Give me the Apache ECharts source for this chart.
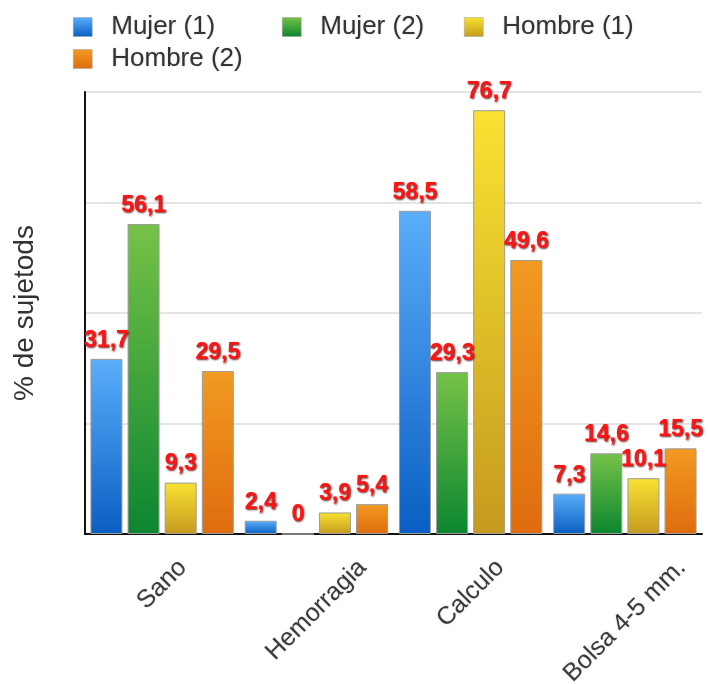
<!DOCTYPE html>
<html>
<head>
<meta charset="utf-8">
<script src="https://cdn.jsdelivr.net/npm/echarts@6/dist/echarts.min.js"></script>
<style>
  html, body { margin: 0; padding: 0; background: #ffffff; }
  #chart { width: 708px; height: 684px; }
</style>
</head>
<body>
<div id="chart"></div>
<script>
// Categories and percentages per group
const categories = ['Sano', 'Hemorragia', 'Calculo', 'Bolsa 4-5 mm.'];
const seriesNames = ['Mujer (1)', 'Mujer (2)', 'Hombre (1)', 'Hombre (2)'];
const mujer1 = [31.7, 2.4, 58.5, 7.3];
const mujer2 = [56.1, 0, 29.3, 14.6];
const hombre1 = [9.3, 3.9, 76.7, 10.1];
const hombre2 = [29.5, 5.4, 49.6, 15.5];
const yTitle = '% de sujetods';
const yMax = 80;
const yStep = 20;

// top / bottom colours of the bar gradients
const palette = [
  ['#5aaefa', '#0a5ec2'],
  ['#76c247', '#0b8630'],
  ['#f9e232', '#c59a1f'],
  ['#f29a22', '#df6c0e']
];

const values = [mujer1, mujer2, hombre1, hombre2];

function gradient(pair) {
  return new echarts.graphic.LinearGradient(0, 0, 0, 1, [
    { offset: 0, color: pair[0] },
    { offset: 1, color: pair[1] }
  ]);
}

const TEXT_FONT = "'Liberation Sans', Arial, Helvetica, sans-serif";
const CAT_FONT_SIZE = 25;

// Rotated category labels are centred under their category with the top
// of their rotated extent at a common distance below the axis. The label
// is anchored at its top-centre and moved along / across its own direction
// by a quarter of (width + height), which adds up to a straight drop of
// half the rotated extent.
const measureCtx = document.createElement('canvas').getContext('2d');
measureCtx.font = CAT_FONT_SIZE + 'px ' + TEXT_FONT;
const categoryItems = categories.map(function (name) {
  const w = measureCtx.measureText(name).width;
  const h = CAT_FONT_SIZE;
  return {
    value: name,
    textStyle: {
      align: 'center',
      verticalAlign: 'top',
      padding: [(w - h) / 4, (w + h) / 2, 0, 0]
    }
  };
});

const valueLabel = {
  show: true,
  position: 'top',
  distance: 7,
  color: '#ff1414',
  fontFamily: TEXT_FONT,
  fontWeight: 'bold',
  fontSize: 23,
  textShadowColor: 'rgba(70,0,0,0.85)',
  textShadowBlur: 2,
  textShadowOffsetX: 1,
  textShadowOffsetY: 1,
  formatter: function (p) { return String(p.value).replace('.', ','); }
};

const legendText = {
  fontFamily: TEXT_FONT,
  fontSize: 26,
  color: '#333333',
  padding: [0, 0, 0, 14],
  textShadowColor: 'rgba(0,0,0,0.2)',
  textShadowBlur: 2
};

// one legend entry per position, laid out in two rows
const legendSpots = [
  { left: 73, top: 14 },
  { left: 282, top: 14 },
  { left: 464, top: 14 },
  { left: 73, top: 46 }
];

const chart = echarts.init(document.getElementById('chart'), null, { renderer: 'canvas' });

chart.setOption({
  animation: false,
  backgroundColor: '#ffffff',
  legend: seriesNames.map(function (name, i) {
    return {
      data: [name],
      left: legendSpots[i].left,
      top: legendSpots[i].top,
      padding: 0,
      itemWidth: 19,
      itemHeight: 19,
      icon: 'rect',
      selectedMode: false,
      textStyle: legendText,
      itemStyle: { borderColor: '#a0a0a0', borderWidth: 0.5 }
    };
  }),
  grid: {
    left: 85, right: 6, top: 92, bottom: 150,
    containLabel: false,
    outerBoundsMode: 'none'
  },
  xAxis: {
    type: 'category',
    data: categoryItems,
    axisLine: { show: true, lineStyle: { color: '#111111', width: 2 } },
    axisTick: { show: false },
    axisLabel: {
      interval: 0,
      rotate: 45,
      margin: 21,
      fontFamily: TEXT_FONT,
      fontSize: CAT_FONT_SIZE,
      color: '#3a3a3a',
      textShadowColor: 'rgba(0,0,0,0.2)',
      textShadowBlur: 2
    }
  },
  yAxis: {
    type: 'value',
    min: 0,
    max: yMax,
    interval: yStep,
    name: yTitle,
    nameLocation: 'middle',
    nameGap: 46,
    nameTextStyle: { fontFamily: TEXT_FONT, fontSize: 28, color: '#333333' },
    axisLine: { show: true, lineStyle: { color: '#111111', width: 2 } },
    axisTick: { show: false },
    axisLabel: { show: false },
    splitLine: { show: true, lineStyle: { color: '#e4e4e4', width: 2 } }
  },
  series: seriesNames.map(function (name, i) {
    return {
      name: name,
      type: 'bar',
      data: values[i],
      barWidth: 32,
      barGap: '16%',
      itemStyle: {
        color: gradient(palette[i]),
        borderColor: '#9c9c9c',
        borderWidth: 1
      },
      label: valueLabel
    };
  })
});
</script>
</body>
</html>
